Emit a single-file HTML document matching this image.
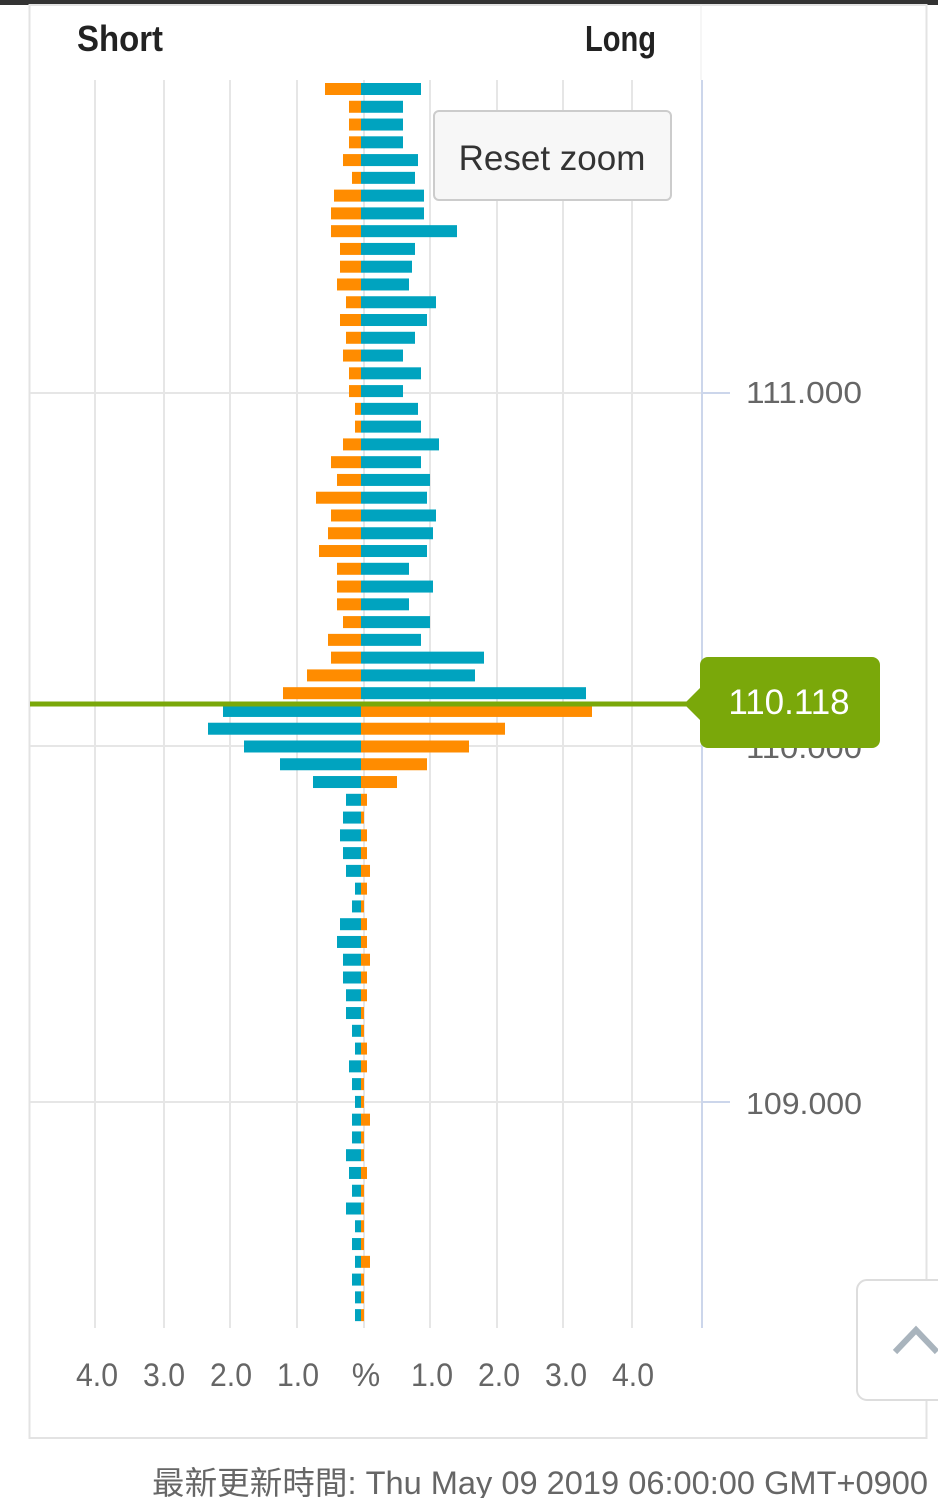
<!DOCTYPE html>
<html><head><meta charset="utf-8"><style>
html,body{margin:0;padding:0;background:#fff;width:938px;height:1498px;overflow:hidden}
svg{display:block}
</style></head><body>
<svg id="s" width="938" height="1498" xmlns="http://www.w3.org/2000/svg" font-family="Liberation Sans, sans-serif">
<rect x="0" y="0" width="938" height="5" fill="#333"/>
<rect x="29.5" y="5" width="897" height="1433" fill="none" stroke="#e3e3e3" stroke-width="2"/>
<g stroke="#e6e6e6" stroke-width="2">
<line x1="95" y1="80" x2="95" y2="1328"/><line x1="164" y1="80" x2="164" y2="1328"/>
<line x1="230" y1="80" x2="230" y2="1328"/><line x1="297" y1="80" x2="297" y2="1328"/>
<line x1="364" y1="80" x2="364" y2="1328"/><line x1="430" y1="80" x2="430" y2="1328"/>
<line x1="497" y1="80" x2="497" y2="1328"/><line x1="563" y1="80" x2="563" y2="1328"/>
<line x1="632" y1="80" x2="632" y2="1328"/>
<line x1="30" y1="393" x2="702" y2="393"/><line x1="30" y1="746" x2="702" y2="746"/><line x1="30" y1="1102" x2="702" y2="1102"/>
</g>
<line x1="702" y1="80" x2="702" y2="1328" stroke="#ccd6eb" stroke-width="2"/>
<line x1="701" y1="5" x2="701" y2="80" stroke="#eee" stroke-width="1"/>
<g stroke="#ccd6eb" stroke-width="2"><line x1="702" y1="393" x2="730" y2="393"/><line x1="702" y1="746" x2="730" y2="746"/><line x1="702" y1="1102" x2="730" y2="1102"/></g>
<g font-size="31" fill="#666"><text x="746" y="403" textLength="116" lengthAdjust="spacingAndGlyphs">111.000</text><text x="746" y="758" textLength="116" lengthAdjust="spacingAndGlyphs">110.000</text><text x="746" y="1114" textLength="116" lengthAdjust="spacingAndGlyphs">109.000</text></g>
<g id="bars"></g>
<line x1="30" y1="704" x2="700" y2="704" stroke="#7aa80a" stroke-width="5"/>
<path d="M708 657 H872 a8 8 0 0 1 8 8 V740 a8 8 0 0 1 -8 8 H708 a8 8 0 0 1 -8 -8 V720 L684 704 L700 688 V665 a8 8 0 0 1 8 -8 z" fill="#7aa80a"/>
<text x="789" y="714" font-size="35" fill="#fff" text-anchor="middle">110.118</text>
<rect x="434" y="111" width="237" height="89" rx="5" fill="#f7f7f7" stroke="#ccc" stroke-width="2"/>
<text x="552" y="170" font-size="35" fill="#333" text-anchor="middle">Reset zoom</text>
<text x="77" y="51" font-size="36" font-weight="bold" fill="#222" textLength="86" lengthAdjust="spacingAndGlyphs">Short</text>
<text x="585" y="51" font-size="36" font-weight="bold" fill="#222" textLength="71" lengthAdjust="spacingAndGlyphs">Long</text>
<g font-size="32" fill="#666" text-anchor="middle">
<text x="97" y="1386" textLength="42" lengthAdjust="spacingAndGlyphs">4.0</text>
<text x="164" y="1386" textLength="42" lengthAdjust="spacingAndGlyphs">3.0</text>
<text x="231" y="1386" textLength="42" lengthAdjust="spacingAndGlyphs">2.0</text>
<text x="298" y="1386" textLength="42" lengthAdjust="spacingAndGlyphs">1.0</text>
<text x="366" y="1386">%</text>
<text x="432" y="1386" textLength="42" lengthAdjust="spacingAndGlyphs">1.0</text>
<text x="499" y="1386" textLength="42" lengthAdjust="spacingAndGlyphs">2.0</text>
<text x="566" y="1386" textLength="42" lengthAdjust="spacingAndGlyphs">3.0</text>
<text x="633" y="1386" textLength="42" lengthAdjust="spacingAndGlyphs">4.0</text>
</g>
<rect x="857" y="1280" width="100" height="120" rx="10" fill="#fff" stroke="#ddd" stroke-width="2"/>
<path d="M895 1352 L916 1330 L937 1352" fill="none" stroke="#a9b4bd" stroke-width="6"/>
<text x="152" y="1494" font-size="32" fill="#666" font-family="Liberation Sans, Noto Sans CJK TC, sans-serif" textLength="776" lengthAdjust="spacingAndGlyphs">最新更新時間: Thu May 09 2019 06:00:00 GMT+0900</text>
</svg>
<script>
var up=[[325,421],[349,403],[349,403],[349,403],[343,418],[352,415],[334,424],[331,424],[331,457],[340,415],[340,412],[337,409],[346,436],[340,427],[346,415],[343,403],[349,421],[349,403],[355,418],[355,421],[343,439],[331,421],[337,430],[316,427],[331,436],[328,433],[319,427],[337,409],[337,433],[337,409],[343,430],[328,421],[331,484],[307,475],[283,586]];
var dn=[[223,592],[208,505],[244,469],[280,427],[313,397],[346,367],[343,364],[340,367],[343,367],[346,370],[355,367],[352,364],[340,367],[337,367],[343,370],[343,367],[346,367],[346,364],[352,364],[355,367],[349,367],[352,364],[355,364],[352,370],[352,364],[346,364],[349,367],[352,364],[346,364],[355,364],[352,364],[355,370],[352,364],[355,364],[355,364]];
var C=361,O="#ff8c00",T="#00a3bf",h="",y0=89,st=17.77;
function r(x1,x2,y,c){h+='<rect x="'+x1+'" y="'+(y-6)+'" width="'+(x2-x1)+'" height="12" fill="'+c+'"/>';}
up.forEach(function(b,i){var y=y0+i*st;r(b[0],C,y,O);r(C,b[1],y,T);});
dn.forEach(function(b,i){var y=y0+(i+35)*st;r(b[0],C,y,T);r(C,b[1],y,O);});
document.getElementById("bars").innerHTML=h;
</script>
</body></html>
